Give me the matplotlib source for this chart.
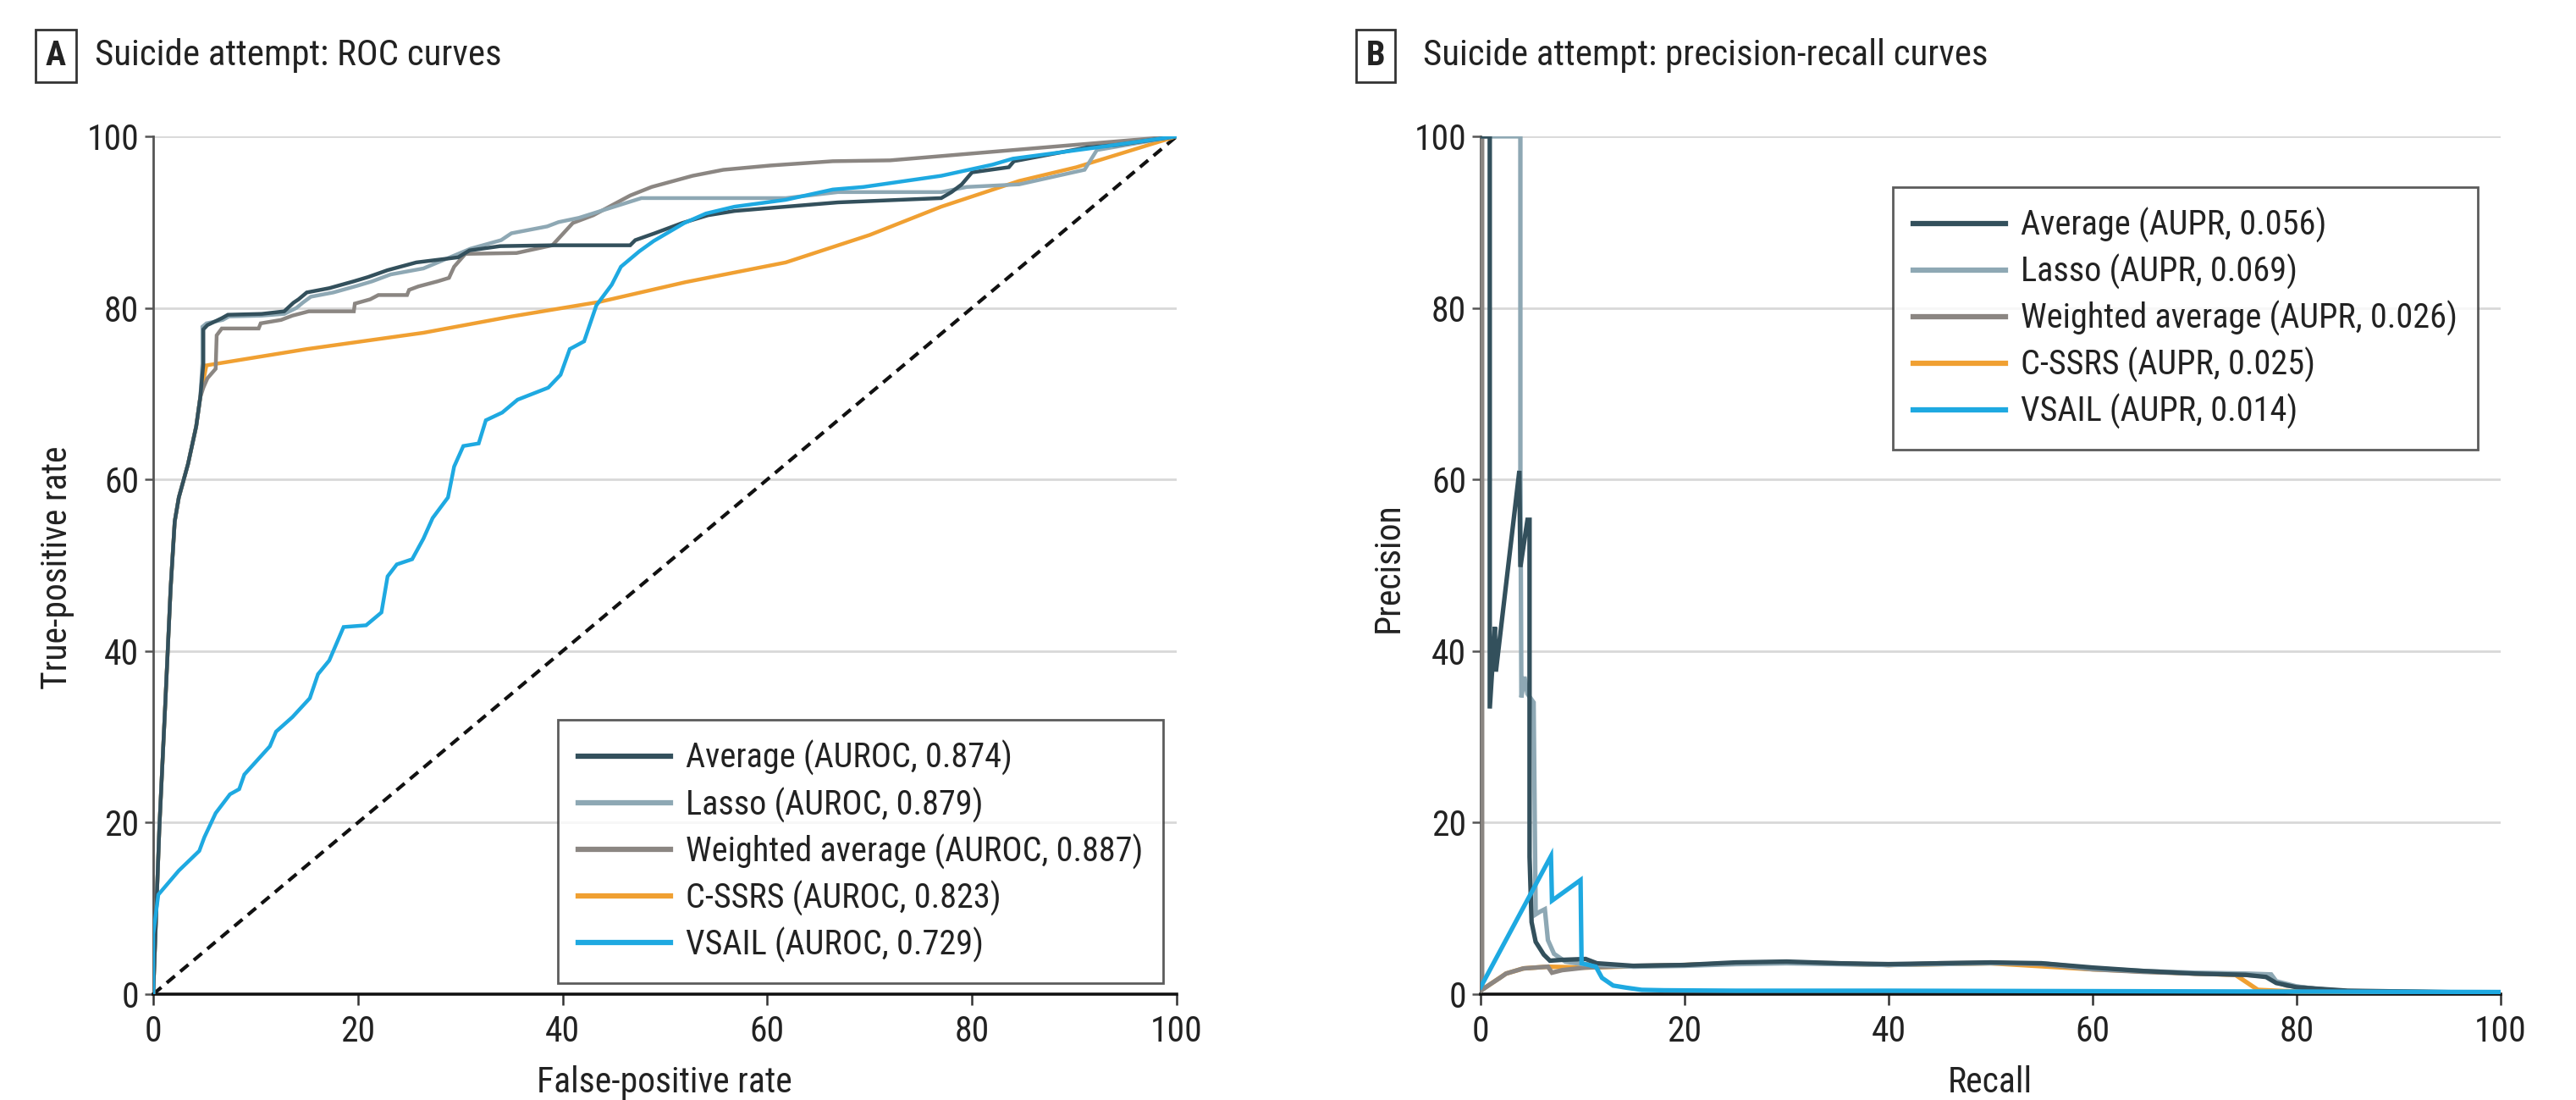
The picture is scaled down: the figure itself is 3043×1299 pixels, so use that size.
import matplotlib
matplotlib.use("Agg")
import matplotlib.pyplot as plt
from matplotlib import font_manager as fm

# pick a condensed sans face if one is installed
_avail = fm.fontManager.ttflist
_names = {f.name for f in _avail}
FAMILY = None
STRETCH = 'normal'
for cand in ['Liberation Sans Narrow', 'Roboto Condensed', 'Open Sans Condensed', 'Noto Sans Condensed',
             'DejaVu Sans Condensed', 'Arial Narrow']:
    if cand in _names:
        FAMILY = cand
        break
if FAMILY is None:
    def _is_cond(f):
        s = f.stretch
        if isinstance(s, str):
            return 'condensed' in s
        return s < 500
    for pref in ['Noto Sans', 'Open Sans', 'Roboto', 'DejaVu Sans', 'Lato', 'Inter']:
        if any(f.name == pref and _is_cond(f) for f in _avail):
            FAMILY = pref
            STRETCH = 'condensed'
            break
if FAMILY is None:
    FAMILY = 'Open Sans'
FONT = [FAMILY, 'DejaVu Sans']
plt.rcParams['font.family'] = FONT
plt.rcParams['font.stretch'] = STRETCH
NARROW = STRETCH == 'condensed' or FAMILY != 'Open Sans'

# ---------------- data: ROC (false-positive rate, true-positive rate), % ----------------
roc_avg_fpr = [0, 0.6, 1.16, 1.7, 2.1, 2.5, 3.4, 4.2, 4.6, 4.9, 4.9, 5.3, 6.7, 7.3, 10.6, 12.8, 13.7, 14.2, 15, 17.2,
               19.6, 21, 22.9, 25.7, 29.8, 30.9, 33.9, 39, 46.6, 47.1, 49, 51.7, 54.2, 56.8, 61.8, 66.9, 77, 78, 79,
               80, 83.6, 84.1, 91.2, 94.2, 100]
roc_avg_tpr = [0, 19.4, 33.4, 47.3, 55.1, 57.9, 61.8, 66.2, 69.6, 73.5, 77.5, 78.0, 78.8, 79.2, 79.3, 79.6, 80.6, 81.0,
               81.8, 82.3, 83.1, 83.6, 84.4, 85.3, 85.9, 86.7, 87.2, 87.3, 87.3, 87.9, 88.7, 89.9, 90.8, 91.3, 91.8,
               92.3, 92.8, 93.5, 94.4, 95.8, 96.4, 97.1, 98.7, 99.0, 100]

roc_lasso_fpr = [0, 0.6, 1.16, 1.7, 2.1, 2.5, 3.4, 4.2, 4.6, 4.8, 4.8, 5.2, 6.8, 7.4, 10.6, 12.8, 14.0, 14.6, 15.4,
                 17.6, 20.0, 21.4, 23.2, 26.4, 31, 34, 35, 38.5, 39.6, 41.6, 47.7, 61.8, 66.9, 77, 79.5, 84.6, 91,
                 92.2, 100]
roc_lasso_tpr = [0, 19.4, 33.4, 47.3, 55.1, 57.9, 61.8, 66.2, 69.6, 73.5, 77.8, 78.2, 78.6, 79.0, 79.1, 79.3, 80.0,
                 80.6, 81.3, 81.8, 82.6, 83.1, 83.9, 84.6, 86.9, 87.9, 88.7, 89.5, 90.0, 90.5, 92.8, 92.8, 93.5,
                 93.5, 94.1, 94.4, 96.1, 98.4, 100]

roc_wavg_fpr = [0, 0.6, 1.16, 1.7, 2.1, 2.5, 3.4, 4.2, 4.6, 4.9, 5.3, 6.1, 6.2, 6.7, 10.3, 10.5, 12.5, 13.6, 15.2,
                19.6, 19.7, 21.2, 22, 24.8, 25, 25.9, 27.8, 28.9, 29.4, 30.5, 35.5, 39, 41, 43, 46.6, 48.7, 52.7,
                55.7, 60.3, 66.4, 72, 100]
roc_wavg_tpr = [0, 19.4, 33.4, 47.3, 55.1, 57.9, 61.8, 66.2, 69.6, 70.7, 71.8, 72.9, 76.8, 77.6, 77.6, 78.2, 78.6,
                79.1, 79.6, 79.6, 80.5, 81.0, 81.5, 81.5, 82.1, 82.5, 83.1, 83.5, 84.8, 86.3, 86.4, 87.3, 89.9,
                90.8, 93.1, 94.1, 95.4, 96.1, 96.6, 97.1, 97.2, 100]

roc_cssrs_fpr = [0, 0.6, 1.16, 1.7, 2.1, 2.5, 3.4, 4.2, 4.6, 5.2, 15, 26.4, 35, 43.6, 52, 61.8, 70, 77, 84.6, 90.2,
                 100]
roc_cssrs_tpr = [0, 19.4, 33.4, 47.3, 55.1, 57.9, 61.8, 66.2, 69.6, 73.3, 75.2, 77.1, 79.0, 80.7, 83.0, 85.3, 88.5,
                 91.8, 94.8, 96.4, 100]

roc_vsail_fpr = [0, 0, 0.5, 2.5, 4.5, 5, 6.1, 7.5, 8.4, 8.9, 11.4, 12, 13.6, 15.3, 16.1, 17.2, 18.6, 20.8, 22.3,
                 22.9, 23.8, 25.3, 26.4, 27.3, 28.8, 29.4, 30.3, 31.8, 32.5, 34.1, 35.6, 38.6, 39.8, 40.7, 42.1,
                 43.3, 44.8, 45.7, 47.5, 48.9, 51.9, 54, 56.8, 61.8, 66.4, 69.4, 77, 82, 84, 92.2, 100]
roc_vsail_tpr = [0, 7, 11.6, 14.4, 16.7, 18.3, 21.1, 23.3, 23.9, 25.6, 28.9, 30.6, 32.3, 34.5, 37.3, 38.9, 42.8,
                 43.0, 44.5, 48.7, 50.1, 50.7, 53.1, 55.5, 57.9, 61.5, 63.9, 64.2, 66.9, 67.8, 69.3, 70.7, 72.2,
                 75.2, 76.1, 80.3, 82.7, 84.8, 86.6, 87.8, 89.9, 91.0, 91.8, 92.6, 93.8, 94.1, 95.4, 96.7, 97.4,
                 98.7, 100]

# ---------------- data: precision-recall (recall, precision), % ----------------
pr_avg_rec = [0, 0.9, 0.9, 1.4, 1.5, 3.8, 3.9, 4.6, 4.8, 4.8, 5.0, 5.4, 6.2, 6.8, 8.0, 10.3, 11.4, 15, 20, 25, 30,
              35, 40, 45, 50, 55, 60, 65, 70, 75, 77, 78, 80, 85, 100]
pr_avg_prec = [100, 100, 33.3, 42.8, 37.6, 61.0, 49.8, 55.3, 55.3, 16.0, 8.4, 6.1, 4.6, 3.9, 4.0, 4.1, 3.6, 3.3,
               3.4, 3.7, 3.8, 3.6, 3.5, 3.6, 3.7, 3.6, 3.1, 2.7, 2.4, 2.25, 2.0, 1.3, 0.8, 0.4, 0.15]

pr_lasso_rec = [0.3, 3.9, 3.9, 4.0, 4.3, 4.6, 5.2, 5.4, 5.8, 6.3, 6.6, 7.2, 8.3, 10, 15, 20, 25, 30, 35, 40, 45, 50,
                55, 60, 65, 70, 75, 77.5, 78, 80, 82, 85, 100]
pr_lasso_prec = [100, 100, 61.0, 34.6, 37.0, 35.0, 34.0, 9.3, 9.6, 9.9, 6.3, 4.7, 3.8, 3.5, 3.2, 3.3, 3.5, 3.6, 3.5,
                 3.4, 3.5, 3.6, 3.6, 3.0, 2.7, 2.5, 2.4, 2.3, 1.5, 0.9, 0.6, 0.35, 0.15]

pr_wavg_rec = [0, 0.15, 0.15, 1, 1.9, 2.5, 4.2, 6.6, 7.0, 8, 10.3, 15, 20, 25, 30, 35, 40, 45, 50, 55, 60, 65, 70,
               75, 77, 78, 79, 81.6, 84.6, 100]
pr_wavg_prec = [100, 100, 0.5, 1.2, 1.9, 2.4, 3.0, 3.2, 2.5, 2.8, 3.1, 3.3, 3.4, 3.6, 3.7, 3.6, 3.4, 3.6, 3.65,
                3.5, 2.9, 2.6, 2.4, 2.25, 2.1, 1.45, 1.0, 0.65, 0.32, 0.16]

pr_cssrs_rec = [0, 0.1, 0.1, 1, 2.5, 4.2, 6.6, 10.3, 20, 30, 40, 50, 60, 70, 74, 76.2, 80, 100]
pr_cssrs_prec = [100, 100, 0.5, 1.2, 2.4, 3.0, 3.2, 3.1, 3.4, 3.7, 3.4, 3.6, 2.9, 2.4, 2.25, 0.5, 0.3, 0.2]

pr_vsail_rec = [0, 6.9, 7.0, 9.8, 9.9, 11.3, 11.9, 13.0, 14.3, 15.8, 18, 25, 40, 60, 80, 100]
pr_vsail_prec = [0.8, 16.1, 10.9, 13.3, 3.6, 3.2, 1.9, 1.0, 0.75, 0.5, 0.45, 0.4, 0.4, 0.35, 0.3, 0.25]

series_names = ['Average', 'Lasso', 'Weighted average', 'C-SSRS', 'VSAIL']
auroc = ['0.874', '0.879', '0.887', '0.823', '0.729']
aupr = ['0.056', '0.069', '0.026', '0.025', '0.014']
colors = ['#33505c', '#8ea8b4', '#8b8682', '#f0a032', '#1ea9e1']

ticks = [0, 20, 40, 60, 80, 100]

# ---------------- figure ----------------
W, H = 3043, 1299
fig = plt.figure(figsize=(W / 100, H / 100), dpi=100)
axA = fig.add_axes([181 / W, 1 - 1174 / H, (1390 - 181) / W, (1174 - 161) / H])
axB = fig.add_axes([1749 / W, 1 - 1174 / H, (2954 - 1749) / W, (1174 - 161) / H])

FS = 29 if NARROW else 26
LW = 3.2

roc_data = [(roc_avg_fpr, roc_avg_tpr), (roc_lasso_fpr, roc_lasso_tpr), (roc_wavg_fpr, roc_wavg_tpr),
            (roc_cssrs_fpr, roc_cssrs_tpr), (roc_vsail_fpr, roc_vsail_tpr)]
pr_data = [(pr_avg_rec, pr_avg_prec), (pr_lasso_rec, pr_lasso_prec), (pr_wavg_rec, pr_wavg_prec),
           (pr_cssrs_rec, pr_cssrs_prec), (pr_vsail_rec, pr_vsail_prec)]
zorders = [6, 5, 4, 3, 7]

for ax in (axA, axB):
    ax.set_xlim(0, 100)
    ax.set_ylim(0, 100)
    ax.set_xticks(ticks)
    ax.set_yticks(ticks)
    ax.grid(axis='y', color='#d8d8d8', lw=2)
    ax.set_axisbelow(True)
    for s in ('top', 'right'):
        ax.spines[s].set_visible(False)
    ax.spines['left'].set_color('#555555')
    ax.spines['left'].set_linewidth(2)
    ax.spines['bottom'].set_color('#111111')
    ax.spines['bottom'].set_linewidth(2.6)
    ax.tick_params(axis='x', length=9, width=1.8, color='#333333', labelsize=FS + 1, pad=8, labelcolor='#222222')
    ax.tick_params(axis='y', length=7, width=1.8, color='#555555', labelsize=FS + 1, pad=5, labelcolor='#222222')

axA.plot([0, 100], [0, 100], ls=(0, (3, 2)), color='#111111', lw=3, zorder=2)

for (x, y), name, val, c, z in zip(roc_data, series_names, auroc, colors, zorders):
    axA.plot(x, y, color=c, lw=LW, label=f'{name} (AUROC, {val})', zorder=z, solid_joinstyle='miter')
for (x, y), name, val, c, z in zip(pr_data, series_names, aupr, colors, zorders):
    axB.plot(x, y, color=c, lw=LW + 0.6, label=f'{name} (AUPR, {val})', zorder=z, solid_joinstyle='miter')

legA = axA.legend(loc='lower right', bbox_to_anchor=(0.987, 0.013), fontsize=FS, frameon=True,
                  fancybox=False, edgecolor='#333333', handlelength=2.7, handletextpad=0.45,
                  borderpad=0.6, labelspacing=0.32, borderaxespad=0)
legB = axB.legend(loc='upper right', bbox_to_anchor=(0.978, 0.941), fontsize=FS, frameon=True,
                  fancybox=False, edgecolor='#333333', handlelength=2.7, handletextpad=0.45,
                  borderpad=0.6, labelspacing=0.32, borderaxespad=0)
for leg in (legA, legB):
    leg.get_frame().set_linewidth(2)
    for l in leg.get_lines():
        l.set_linewidth(4.5)
    for t in leg.get_texts():
        t.set_color('#222222')

# titles with boxed letters
for letter, bx, tx, title in (('A', 66, 112, 'Suicide attempt: ROC curves'),
                              ('B', 1625, 1681, 'Suicide attempt: precision-recall curves')):
    fig.text(bx / W, 1 - 66 / H, letter, fontsize=FS, fontweight='bold', ha='center', va='center',
             color='#222222',
             bbox=dict(boxstyle='square,pad=0.3', fc='white', ec='#333333', lw=2))
    fig.text(tx / W, 1 - 66 / H, title, fontsize=FS + 2, ha='left', va='center', color='#222222')

# axis labels
fig.text(68 / W, 1 - 670 / H, 'True-positive rate', rotation=90, fontsize=FS + 1, ha='center', va='center',
         color='#222222')
fig.text(1640 / W, 1 - 670 / H, 'Precision', rotation=90, fontsize=FS + 1, ha='center', va='center',
         color='#222222')
fig.text(785 / W, 1 - 1258 / H, 'False-positive rate', fontsize=FS + 1, ha='center', va='top', color='#222222')
fig.text(2351 / W, 1 - 1258 / H, 'Recall', fontsize=FS + 1, ha='center', va='top', color='#222222')

fig.savefig('out.png', dpi=100, facecolor='white')
